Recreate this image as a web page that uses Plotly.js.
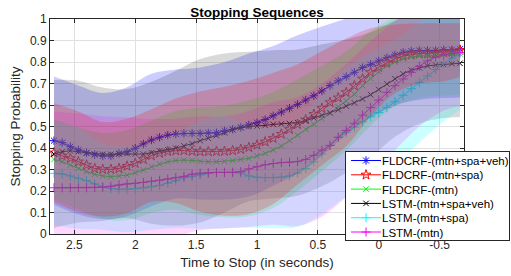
<!DOCTYPE html>
<html><head><meta charset="utf-8">
<script src="https://cdn.plot.ly/plotly-3.0.1.min.js"></script>
<style>html,body{margin:0;padding:0;background:#fff}#chart{width:511px;height:276px}</style>
</head><body><div id="chart"></div>
<script>
// time to stop (seconds)
const time = [2.667,2.600,2.533,2.467,2.400,2.333,2.267,2.200,2.133,2.067,2.000,1.933,1.867,1.800,1.733,1.667,1.600,1.533,1.467,1.400,1.333,1.267,1.200,1.133,1.067,1.000,0.933,0.867,0.800,0.733,0.667,0.600,0.533,0.467,0.400,0.333,0.267,0.200,0.133,0.067,0.000,-0.067,-0.133,-0.200,-0.267,-0.333,-0.400,-0.467,-0.533,-0.600,-0.667];

const fldcrfMSV = [0.434,0.425,0.406,0.391,0.378,0.369,0.363,0.363,0.375,0.383,0.399,0.419,0.437,0.450,0.460,0.465,0.468,0.468,0.468,0.470,0.471,0.480,0.487,0.496,0.507,0.518,0.532,0.550,0.567,0.585,0.603,0.623,0.643,0.665,0.690,0.712,0.732,0.752,0.774,0.789,0.805,0.820,0.833,0.845,0.851,0.854,0.854,0.854,0.857,0.857,0.860];
const fldcrfMS = [0.378,0.363,0.352,0.336,0.321,0.305,0.301,0.301,0.305,0.316,0.329,0.347,0.365,0.376,0.384,0.387,0.388,0.385,0.383,0.383,0.384,0.385,0.388,0.394,0.403,0.414,0.429,0.445,0.465,0.487,0.510,0.532,0.557,0.585,0.612,0.634,0.659,0.690,0.722,0.752,0.776,0.797,0.815,0.828,0.835,0.839,0.840,0.842,0.845,0.848,0.855];
const fldcrfM = [0.347,0.336,0.321,0.305,0.290,0.278,0.270,0.267,0.270,0.274,0.285,0.298,0.313,0.326,0.336,0.342,0.344,0.342,0.338,0.336,0.336,0.338,0.342,0.347,0.352,0.363,0.375,0.391,0.409,0.434,0.460,0.487,0.510,0.537,0.561,0.592,0.619,0.650,0.690,0.724,0.755,0.782,0.800,0.815,0.823,0.828,0.829,0.831,0.834,0.836,0.838];
const lstmMSV = [0.372,0.383,0.387,0.383,0.376,0.372,0.371,0.371,0.372,0.374,0.372,0.372,0.378,0.386,0.392,0.399,0.410,0.420,0.434,0.445,0.458,0.470,0.485,0.495,0.500,0.502,0.505,0.510,0.512,0.514,0.518,0.527,0.540,0.552,0.564,0.578,0.595,0.610,0.628,0.648,0.672,0.698,0.722,0.745,0.762,0.773,0.782,0.786,0.789,0.792,0.794];
const lstmMS = [0.282,0.279,0.270,0.259,0.248,0.233,0.220,0.212,0.208,0.208,0.211,0.215,0.220,0.226,0.236,0.248,0.262,0.268,0.275,0.282,0.287,0.287,0.287,0.284,0.270,0.264,0.262,0.262,0.264,0.270,0.283,0.305,0.336,0.372,0.412,0.450,0.473,0.497,0.522,0.545,0.565,0.588,0.615,0.645,0.676,0.705,0.735,0.765,0.793,0.818,0.838];
const lstmM = [0.215,0.215,0.215,0.215,0.215,0.216,0.218,0.222,0.228,0.233,0.236,0.240,0.245,0.250,0.256,0.262,0.268,0.278,0.283,0.285,0.286,0.286,0.287,0.290,0.303,0.313,0.322,0.328,0.332,0.334,0.337,0.347,0.366,0.390,0.412,0.450,0.482,0.515,0.553,0.588,0.623,0.659,0.690,0.721,0.752,0.780,0.805,0.822,0.834,0.840,0.845];

// spread (standard deviation) sampled at these times
const bandTime = [2.667,2.467,2.267,2.067,1.867,1.667,1.467,1.267,1.067,0.867,0.667,0.467,0.267,0.067,-0.133,-0.333,-0.533,-0.667];
const stdFldcrfMSV = [0.298,0.300,0.293,0.300,0.308,0.300,0.307,0.320,0.333,0.325,0.322,0.300,0.270,0.245,0.235,0.230,0.225,0.225];
const stdFldcrfMS  = [0.230,0.234,0.220,0.220,0.215,0.243,0.280,0.300,0.310,0.305,0.280,0.265,0.250,0.205,0.160,0.140,0.135,0.125];
const stdFldcrfM   = [0.185,0.190,0.200,0.210,0.215,0.230,0.250,0.260,0.270,0.270,0.260,0.245,0.230,0.220,0.205,0.195,0.190,0.190];
const stdLstmMSV   = [0.344,0.330,0.310,0.300,0.330,0.360,0.380,0.370,0.348,0.345,0.340,0.330,0.310,0.290,0.270,0.260,0.250,0.250];
const stdLstmMS    = [0.240,0.235,0.200,0.200,0.200,0.220,0.250,0.260,0.240,0.235,0.250,0.280,0.300,0.300,0.290,0.280,0.270,0.260];
const stdLstmM     = [0.355,0.345,0.330,0.310,0.290,0.275,0.265,0.260,0.270,0.285,0.300,0.310,0.310,0.310,0.300,0.280,0.260,0.250];

const seriesNames = ['FLDCRF-(mtn+spa+veh)','FLDCRF-(mtn+spa)','FLDCRF-(mtn)','LSTM-(mtn+spa+veh)','LSTM-(mtn+spa)','LSTM-(mtn)'];
const xTickVals = [2.5,2,1.5,1,0.5,0,-0.5];
const xTickText = ['2.5','2','1.5','1','0.5','0','-0.5'];
const yTickVals = [0,0.1,0.2,0.3,0.4,0.5,0.6,0.7,0.8,0.9,1];
const yTickText = ['0','0.1','0.2','0.3','0.4','0.5','0.6','0.7','0.8','0.9','1'];

const styles = [
  {color:'#0000ff', rgb:'0,0,255', a:0.2, symbol:'asterisk-open', size:7},
  {color:'#ff0000', rgb:'255,0,0', a:0.2, symbol:'star-open', size:7.5},
  {color:'#00ff00', rgb:'0,255,0', a:0.2, symbol:'x-thin-open', size:5.5},
  {color:'#000000', rgb:'0,0,0', a:0.15, symbol:'x-thin-open', size:5.5},
  {color:'#00ffff', rgb:'0,255,255', a:0.2, symbol:'cross-thin-open', size:6.5},
  {color:'#ff00ff', rgb:'255,0,255', a:0.16, symbol:'cross-thin-open', size:6.5}
];
const means = [fldcrfMSV, fldcrfMS, fldcrfM, lstmMSV, lstmMS, lstmM];
const stds = [stdFldcrfMSV, stdFldcrfMS, stdFldcrfM, stdLstmMSV, stdLstmMS, stdLstmM];
const bandOrder = [0, 2, 3, 4, 5, 1];

const traces = [];
means.forEach((m, k) => {
  const s = styles[k];
  traces.push({
    x: time, y: m, type: 'scatter', mode: 'lines+markers', name: seriesNames[k],
    line: {color: s.color, width: 1},
    marker: {symbol: s.symbol, size: s.size, color: s.color, line: {color: s.color, width: 1}},
    hoverinfo: 'skip'
  });
});
// shaded spreads go on an overlaid copy of the axes so they sit above the lines
const bandIdx = bandTime.map(t => time.findIndex(v => Math.abs(v - t) < 1e-6));
bandOrder.forEach(k => {
  const m = means[k], s = styles[k];
  const lo = bandIdx.map((i, j) => m[i] - stds[k][j]);
  const up = bandIdx.map((i, j) => m[i] + stds[k][j]);
  traces.push({x: bandTime, y: lo, xaxis: 'x2', yaxis: 'y2', type: 'scatter', mode: 'lines', line: {width: 0, shape: 'spline'}, showlegend: false, hoverinfo: 'skip'});
  traces.push({x: bandTime, y: up, xaxis: 'x2', yaxis: 'y2', type: 'scatter', mode: 'lines', line: {width: 0, shape: 'spline'}, fill: 'tonexty',
    fillcolor: 'rgba(' + s.rgb + ',' + s.a + ')', showlegend: false, hoverinfo: 'skip'});
});

const axisCommon = {
  ticks: 'inside', ticklen: 4, tickwidth: 1, tickcolor: '#262626',
  showline: true, linecolor: '#262626', linewidth: 1, mirror: 'ticks',
  showgrid: true, gridcolor: '#e0e0e0', gridwidth: 1, zeroline: false,
  tickfont: {size: 12, color: '#262626'}
};
const layout = {
  width: 511, height: 276,
  margin: {l: 50, r: 47, t: 19, b: 42, autoexpand: false},
  paper_bgcolor: '#ffffff', plot_bgcolor: '#ffffff',
  font: {family: '"Liberation Sans", Arial, Helvetica, sans-serif', size: 12, color: '#262626'},
  title: {text: '<b>Stopping Sequences</b>', font: {size: 13.5, color: '#000000'}, x: 0.5, xref: 'paper', xanchor: 'center', y: 0.955, yref: 'container', yanchor: 'middle'},
  xaxis: Object.assign({}, axisCommon, {range: [2.7, -0.7], tickmode: 'array', tickvals: xTickVals, ticktext: xTickText,
    title: {text: 'Time to Stop (in seconds)', font: {size: 13.5, color: '#262626'}, standoff: 6}}),
  yaxis: Object.assign({}, axisCommon, {range: [0, 1], tickmode: 'array', tickvals: yTickVals, ticktext: yTickText,
    title: {text: 'Stopping Probability', font: {size: 13.5, color: '#262626'}, standoff: 6}}),
  xaxis2: {overlaying: 'x', range: [2.7, -0.7], visible: false, showgrid: false, zeroline: false},
  yaxis2: {overlaying: 'y', range: [0, 1], visible: false, showgrid: false, zeroline: false},
  showlegend: true,
  legend: {x: 0.7126, y: 0.386, xanchor: 'left', yanchor: 'top', bgcolor: '#ffffff', bordercolor: '#262626', borderwidth: 1,
    font: {size: 11.5, color: '#000000'}, itemwidth: 30, tracegroupgap: 0, traceorder: 'normal'}
};

Plotly.newPlot('chart', traces, layout, {staticPlot: true, displayModeBar: false}).then(gd => {
  // compact legend rows to match the reference spacing
  const leg = gd.querySelector('.legend');
  if (!leg) return;
  const items = leg.querySelectorAll('.traces');
  items.forEach((g, i) => {
    const tr = g.getAttribute('transform') || '';
    const m = /translate\(\s*([-\d.e]+)[ ,]+([-\d.e]+)\s*\)/.exec(tr);
    const x = m ? m[1] : 0;
    g.setAttribute('transform', 'translate(' + x + ',' + (9.5 + i * 14.3) + ')');
    const t = g.querySelector('text.legendtext');
    if (t) {
      t.setAttribute('x', 36);
      t.querySelectorAll('tspan.line').forEach(ts => ts.setAttribute('x', 36));
    }
  });
  const bg = leg.querySelector('rect.bg');
  if (bg) { bg.setAttribute('height', 89); bg.setAttribute('width', 164); }
});
</script>
</body></html>
